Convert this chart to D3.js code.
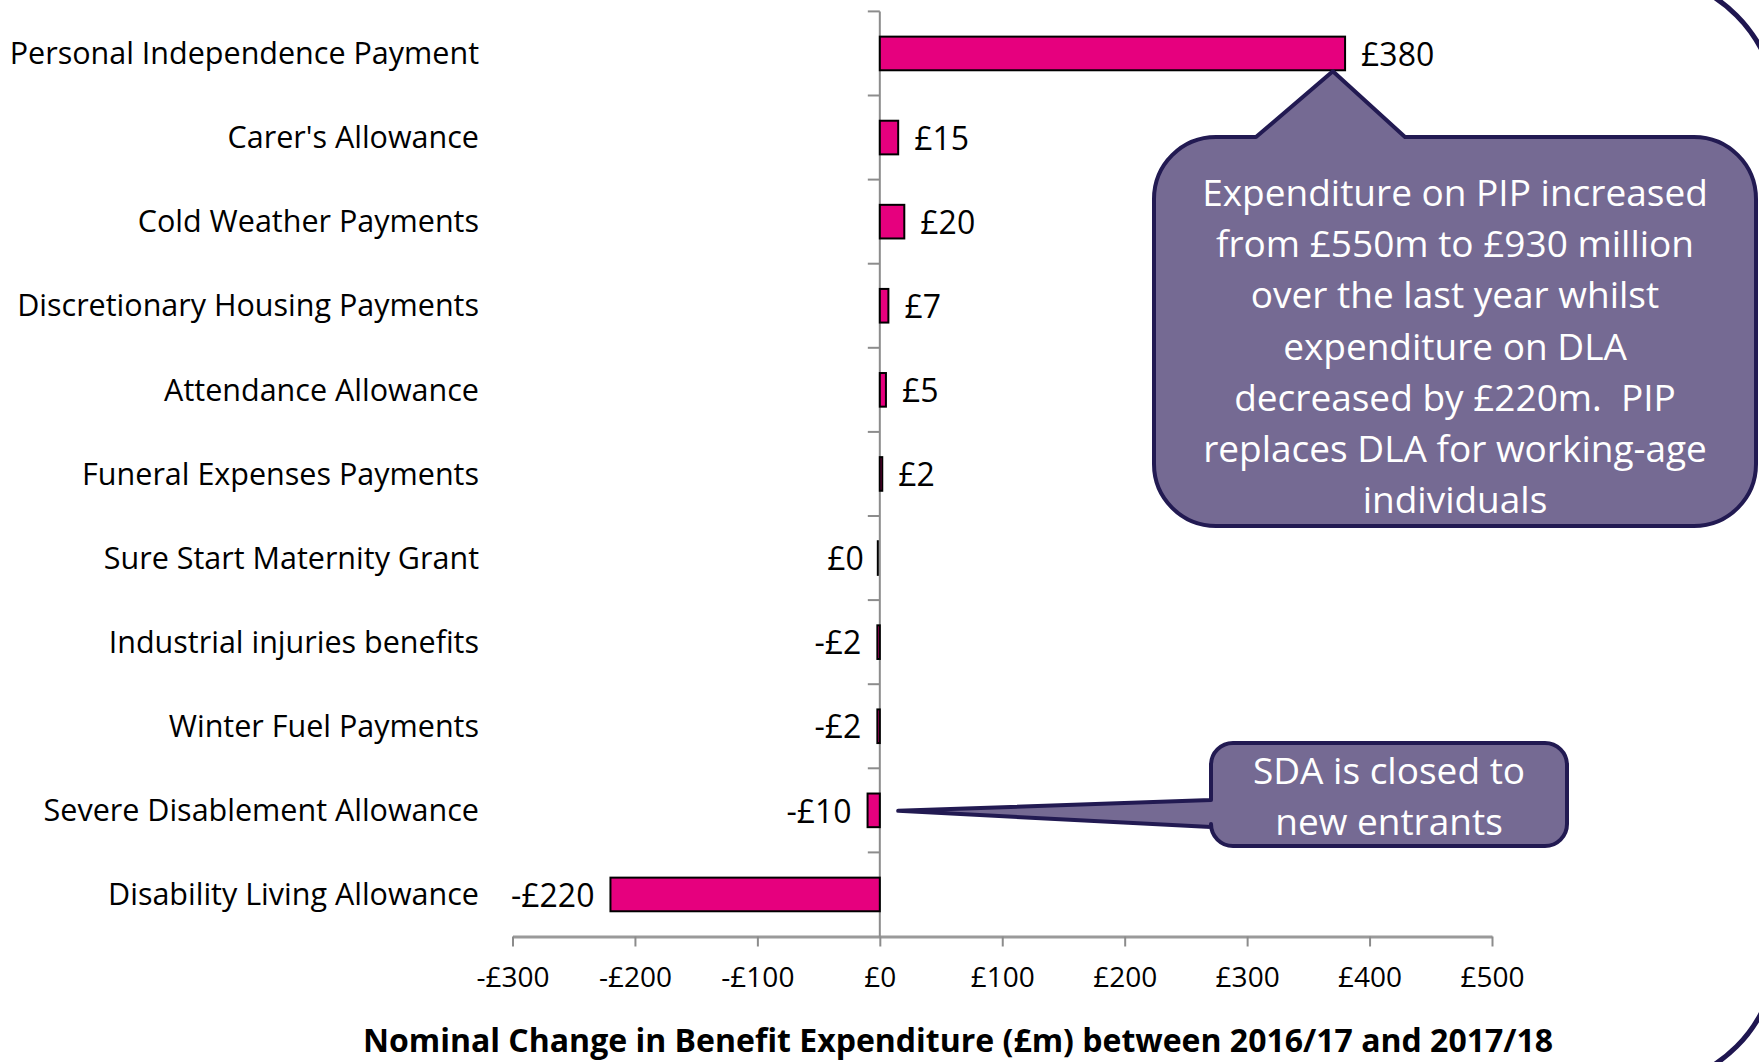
<!DOCTYPE html>
<html>
<head>
<meta charset="utf-8">
<script src="https://cdn.jsdelivr.net/npm/d3@7"></script>
<style>
  html, body { margin: 0; padding: 0; background: #fff; }
  svg { display: block; }
  text { font-family: "Open Sans", Lato, sans-serif; }
</style>
</head>
<body>
<script>
// benefit names, top to bottom
const categories = [
  'Personal Independence Payment',
  "Carer's Allowance",
  'Cold Weather Payments',
  'Discretionary Housing Payments',
  'Attendance Allowance',
  'Funeral Expenses Payments',
  'Sure Start Maternity Grant',
  'Industrial injuries benefits',
  'Winter Fuel Payments',
  'Severe Disablement Allowance',
  'Disability Living Allowance'
];

// nominal change, £m
const changes = [380, 15, 20, 7, 5, 2, 0, -2, -2, -10, -220];

const xTicks = [-300, -200, -100, 0, 100, 200, 300, 400, 500];

const pipNote = [
  'Expenditure on PIP increased',
  'from £550m to £930 million',
  'over the last year whilst',
  'expenditure on DLA',
  'decreased by £220m.  PIP',
  'replaces DLA for working-age',
  'individuals'
];
const sdaNote = ['SDA is closed to', 'new entrants'];

const xTitle = 'Nominal Change in Benefit Expenditure (£m) between 2016/17 and 2017/18';

const W = 1759, H = 1062;
const money = v => (v < 0 ? '-£' : '£') + Math.abs(v);

const svg = d3.select('body').append('svg')
  .attr('width', W)
  .attr('height', H);

// decorative frame, mostly off-page
svg.append('rect')
  .attr('x', -300).attr('y', -25)
  .attr('width', 2077).attr('height', 1112)
  .attr('rx', 138).attr('ry', 138)
  .attr('fill', 'none')
  .attr('stroke', '#1f1650')
  .attr('stroke-width', 5);

const x = d3.scaleLinear()
  .domain([-300, 500])
  .range([512.5, 1492]);

const y = d3.scaleBand()
  .domain(categories)
  .range([11.4, 936.5])
  .paddingInner(0.6)
  .paddingOuter(0.3);

const step = y.step();

// x axis
const xAxis = svg.append('g')
  .attr('transform', 'translate(0,936.5)')
  .call(d3.axisBottom(x)
    .tickValues(xTicks)
    .tickSize(10)
    .tickSizeOuter(0)
    .tickPadding(21)
    .tickFormat(money));

xAxis.select('.domain')
  .attr('stroke', '#9a9a9a')
  .attr('stroke-width', 3);
xAxis.selectAll('.tick line')
  .attr('stroke', '#8c8c8c')
  .attr('stroke-width', 2);
xAxis.selectAll('.tick text')
  .attr('fill', '#000')
  .style('font-size', '28px')
  .style('font-family', '"Open Sans", sans-serif');

// y axis line with ticks between categories
const yAxis = svg.append('g');
yAxis.append('line')
  .attr('x1', x(0)).attr('x2', x(0))
  .attr('y1', y.range()[0]).attr('y2', y.range()[1])
  .attr('stroke', '#8c8c8c')
  .attr('stroke-width', 2);
yAxis.selectAll('.ytick')
  .data(d3.range(categories.length))
  .enter().append('line')
  .attr('class', 'ytick')
  .attr('x1', x(0) - 12).attr('x2', x(0))
  .attr('y1', i => y.range()[0] + i * step)
  .attr('y2', i => y.range()[0] + i * step)
  .attr('stroke', '#8c8c8c')
  .attr('stroke-width', 2);

// category labels
svg.append('g').selectAll('text')
  .data(categories)
  .enter().append('text')
  .attr('x', 479)
  .attr('y', d => y(d) + y.bandwidth() / 2)
  .attr('dy', '0.35em')
  .attr('text-anchor', 'end')
  .style('font-size', '30.5px')
  .text(d => d);

// bars (a zero value still shows its outline)
const rows = categories.map((c, i) => ({ name: c, value: changes[i] }));

svg.append('g').selectAll('rect')
  .data(rows)
  .enter().append('rect')
  .attr('x', d => x(Math.min(0, d.value)) - (d.value === 0 ? 2 : 0))
  .attr('y', d => y(d.name))
  .attr('width', d => Math.max(0.01, Math.abs(x(d.value) - x(0))))
  .attr('height', y.bandwidth())
  .attr('fill', '#e6007e')
  .attr('stroke', '#000')
  .attr('stroke-width', 2);

// value labels
svg.append('g').selectAll('text')
  .data(rows)
  .enter().append('text')
  .attr('x', d => d.value > 0 ? x(d.value) + 16 : x(d.value) - 16)
  .attr('y', d => y(d.name) + y.bandwidth() / 2 + 1)
  .attr('dy', '0.35em')
  .attr('text-anchor', d => d.value > 0 ? 'start' : 'end')
  .style('font-size', '32px')
  .text(d => money(d.value));

// axis title
svg.append('text')
  .attr('x', 958)
  .attr('y', 1041)
  .attr('dy', '0.35em')
  .attr('text-anchor', 'middle')
  .style('font-size', '32px')
  .style('font-weight', 'bold')
  .text(xTitle);

// callout shapes: rounded box with a pointer wedge
const calloutFill = '#756a93';
const calloutLine = '#221a52';

const roundedBox = (x0, y0, x1, y1, r, extra) => {
  const p = d3.path();
  p.moveTo(x0 + r, y0);
  if (extra.top) {
    p.lineTo(extra.top[0], y0);
    p.lineTo(extra.tip[0], extra.tip[1]);
    p.lineTo(extra.top[1], y0);
  }
  p.lineTo(x1 - r, y0);
  p.arcTo(x1, y0, x1, y0 + r, r);
  p.lineTo(x1, y1 - r);
  p.arcTo(x1, y1, x1 - r, y1, r);
  p.lineTo(x0 + r, y1);
  p.arcTo(x0, y1, x0, y1 - r, r);
  if (extra.left) {
    p.lineTo(x0, extra.left[1]);
    p.lineTo(extra.tip[0], extra.tip[1]);
    p.lineTo(x0, extra.left[0]);
  }
  p.lineTo(x0, y0 + r);
  p.arcTo(x0, y0, x0 + r, y0, r);
  p.closePath();
  return p.toString();
};

// PIP callout points at the end of the PIP bar
const pipTip = [x(370), y(categories[0]) + y.bandwidth() + 1];
svg.append('path')
  .attr('d', roundedBox(1154, 137, 1756, 526, 62,
    { top: [1256, 1405], tip: pipTip }))
  .attr('fill', calloutFill)
  .attr('stroke', calloutLine)
  .attr('stroke-width', 4)
  .attr('stroke-linejoin', 'round');

svg.append('g').selectAll('text')
  .data(pipNote)
  .enter().append('text')
  .attr('x', 1455)
  .attr('y', (d, i) => 193 + i * 51.2)
  .attr('dy', '0.35em')
  .attr('text-anchor', 'middle')
  .attr('fill', '#fff')
  .style('font-size', '37px')
  .style('white-space', 'pre')
  .text(d => d);

// SDA callout
const sdaTip = [x(15), y(categories[9]) + y.bandwidth() / 2 + 0.5];
svg.append('path')
  .attr('d', roundedBox(1211, 743, 1567, 846, 22,
    { left: [800, 827], tip: sdaTip }))
  .attr('fill', calloutFill)
  .attr('stroke', calloutLine)
  .attr('stroke-width', 4)
  .attr('stroke-linejoin', 'round');

svg.append('g').selectAll('text')
  .data(sdaNote)
  .enter().append('text')
  .attr('x', 1389)
  .attr('y', (d, i) => 771 + i * 51)
  .attr('dy', '0.35em')
  .attr('text-anchor', 'middle')
  .attr('fill', '#fff')
  .style('font-size', '37px')
  .text(d => d);
</script>
</body>
</html>
